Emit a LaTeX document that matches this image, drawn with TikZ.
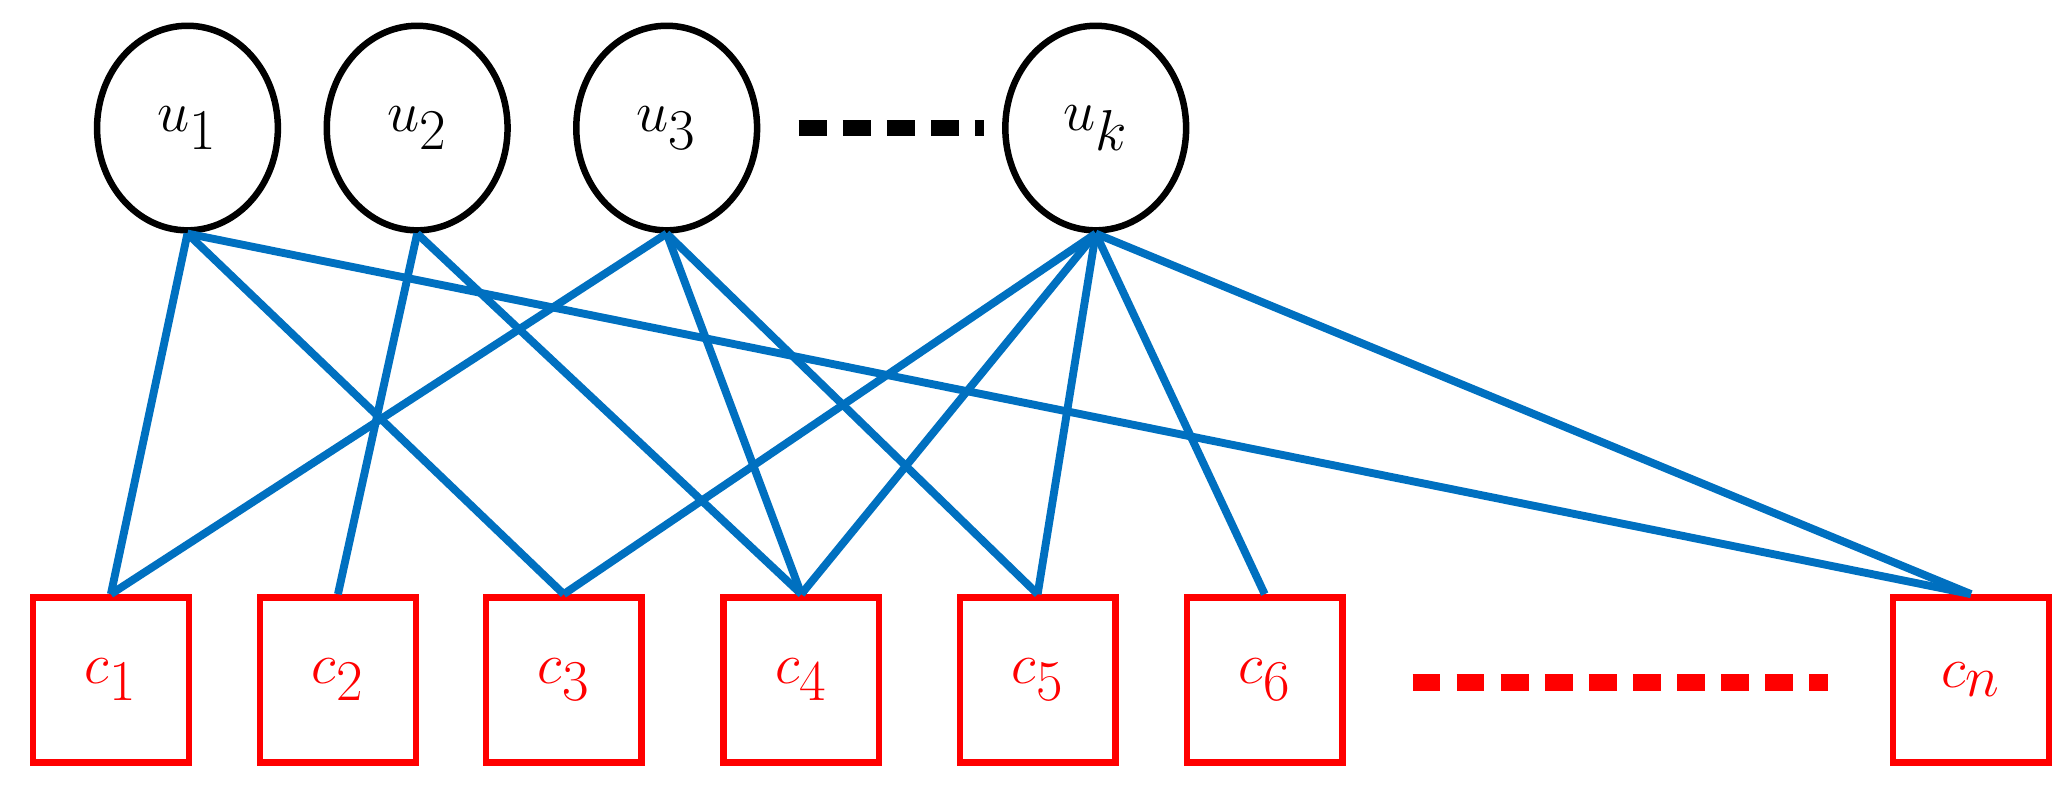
\documentclass[tikz,border=0pt]{standalone}
\usetikzlibrary{shapes.geometric}
\begin{document}
\begin{tikzpicture}[x=0.02cm,y=-0.02cm,
  u/.style={ellipse,draw=black,line width=2.8pt,minimum width=2.74cm,minimum height=3.1cm,inner sep=0pt,font=\fontsize{50}{60}\selectfont},
  c/.style={rectangle,draw=red,line width=2.8pt,minimum width=2.36cm,minimum height=2.5cm,inner sep=0pt,text=red,font=\fontsize{50}{60}\selectfont},
  e/.style={draw={rgb,255:red,0;green,112;blue,192},line width=3.4pt}]
\useasboundingbox (0,0) rectangle (1568,607);
\node[u] (u1) at (142,97) {$u_1$};
\node[u] (u2) at (316,97) {$u_2$};
\node[u] (u3) at (505,97) {$u_3$};
\node[u] (uk) at (830,97) {$u_k$};
\node[c] (c1) at (84,515) {$c_1$};
\node[c] (c2) at (256,515) {$c_2$};
\node[c] (c3) at (427,515) {$c_3$};
\node[c] (c4) at (607,515) {$c_4$};
\node[c] (c5) at (786,515) {$c_5$};
\node[c] (c6) at (958,515) {$c_6$};
\node[c] (cn) at (1493,515) {$c_n$};
\coordinate (d1) at (605,97); \coordinate (d2) at (745,97);
\coordinate (r1) at (1070,517); \coordinate (r2) at (1385,517);
\draw[line width=7pt,dash pattern=on 12pt off 7pt] (d1) -- (d2);
\draw[red,line width=7pt,dash pattern=on 12pt off 7pt] (r1) -- (r2);
\foreach \a/\b in {u1/c1,u1/c3,u1/cn,u2/c2,u2/c4,u3/c1,u3/c4,u3/c5,uk/c3,uk/c4,uk/c5,uk/c6,uk/cn}
  \draw[e] (\a.south) -- (\b.north);
\end{tikzpicture}
\end{document}
